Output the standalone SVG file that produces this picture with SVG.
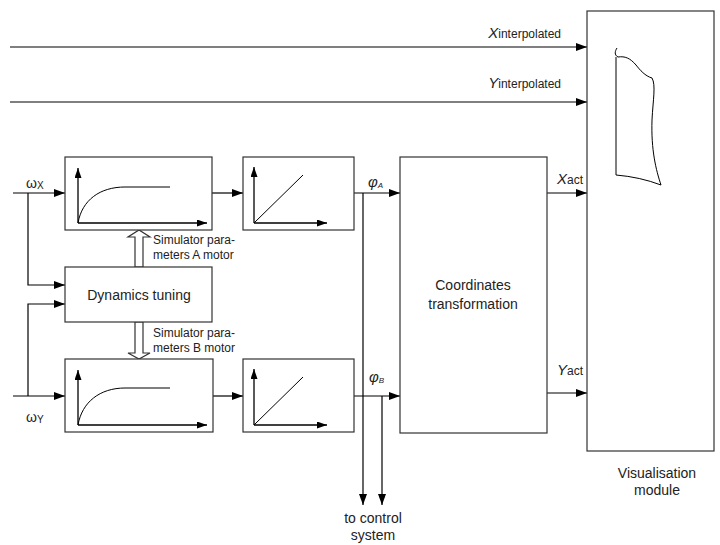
<svg xmlns="http://www.w3.org/2000/svg" width="720" height="545" viewBox="0 0 720 545">
<style>
.box{fill:#fff;stroke:#333;stroke-width:1.2}
.ln{fill:none;stroke:#000;stroke-width:1.2}
.ax{fill:none;stroke:#000;stroke-width:1.3}
.cv{fill:none;stroke:#000;stroke-width:1}
.t{font-family:"Liberation Sans",Arial,sans-serif;font-size:14px;fill:#222}
.s{font-family:"Liberation Sans",Arial,sans-serif;font-size:12px;fill:#222}
.it{font-family:"Liberation Sans",Arial,sans-serif;font-size:15px;font-style:italic;fill:#222}
.sub{font-family:"Liberation Sans",Arial,sans-serif;font-size:12px;fill:#222}
.hol{fill:#fff;stroke:#333;stroke-width:1.2}
</style>
<defs>
<marker id="ah" markerWidth="11" markerHeight="8" refX="11" refY="4" orient="auto" markerUnits="userSpaceOnUse"><path d="M0,0 L11,4 L0,8 z" fill="#000"/></marker>
<marker id="sa" markerWidth="10" markerHeight="7" refX="10" refY="3.5" orient="auto" markerUnits="userSpaceOnUse"><path d="M0,0 L10,3.5 L0,7 z" fill="#000"/></marker>
</defs>

<g id="connectors">
<path class="ln" d="M10,47 H587" marker-end="url(#ah)"/>
<path class="ln" d="M10,102 H587" marker-end="url(#ah)"/>
<path class="ln" d="M13,193 H65" marker-end="url(#ah)"/>
<path class="ln" d="M28,193 V285 H65" marker-end="url(#ah)"/>
<path class="ln" d="M13,396 H65" marker-end="url(#ah)"/>
<path class="ln" d="M28,396 V304 H65" marker-end="url(#ah)"/>
<path class="ln" d="M212,193 H243" marker-end="url(#ah)"/>
<path class="ln" d="M213,396 H243" marker-end="url(#ah)"/>
<path class="ln" d="M354,193 H400" marker-end="url(#ah)"/>
<path class="ln" d="M363,193 V505" marker-end="url(#ah)"/>
<path class="ln" d="M354,396 H400" marker-end="url(#ah)"/>
<path class="ln" d="M382,396 V505" stroke="#555" marker-end="url(#ah)"/>
<path class="ln" d="M547,193 H587" marker-end="url(#ah)"/>
<path class="ln" d="M547,393 H587" marker-end="url(#ah)"/>
<polygon class="hol" points="135,267 135,237 128,237 139,230 150,237 143,237 143,267"/>
<polygon class="hol" points="135,322 135,353 128,353 139,359 150,353 143,353 143,322"/>
</g>

<g id="labels">
<text class="t" x="26" y="188" font-size="15">ω<tspan font-size="10" dy="1">X</tspan></text>
<text class="t" x="26" y="422" font-size="15">ω<tspan font-size="10" dy="1">Y</tspan></text>
<text class="s" x="153" y="244">Simulator para-</text>
<text class="s" x="153" y="259">meters A motor</text>
<text class="s" x="153" y="337">Simulator para-</text>
<text class="s" x="153" y="352">meters B motor</text>
<text class="it" x="368" y="187" font-size="16">φ<tspan font-size="8" dy="1">A</tspan></text>
<text class="it" x="369" y="382" font-size="16">φ<tspan font-size="8" dy="1">B</tspan></text>
<text x="561" y="38" text-anchor="end"><tspan class="it" font-size="16">X</tspan><tspan class="sub">interpolated</tspan></text>
<text x="561" y="88" text-anchor="end"><tspan class="it" font-size="16">Y</tspan><tspan class="sub">interpolated</tspan></text>
<text x="557" y="184"><tspan class="it" font-size="16">X</tspan><tspan class="sub" font-size="13">act</tspan></text>
<text x="557" y="375"><tspan class="it" font-size="16">Y</tspan><tspan class="sub" font-size="13">act</tspan></text>
<text class="t" x="373" y="523" text-anchor="middle">to control</text>
<text class="t" x="373" y="540" text-anchor="middle">system</text>
</g>

<g id="filterA">
<rect class="box" x="65" y="157" width="147" height="73"/>
<path class="ax" d="M78,223 V168" marker-end="url(#sa)"/>
<path class="ax" d="M78,223 H207" marker-end="url(#sa)"/>
<path class="cv" d="M78,223 C82,200 100,187 125,187 L170,187"/>
</g>
<g id="filterB">
<rect class="box" x="65" y="359" width="148" height="73"/>
<path class="ax" d="M78,425 V370" marker-end="url(#sa)"/>
<path class="ax" d="M78,425 H207" marker-end="url(#sa)"/>
<path class="cv" d="M78,425 C82,402 100,388 125,388 L170,388"/>
</g>
<g id="integratorA">
<rect class="box" x="243" y="157" width="111" height="73"/>
<path class="ax" d="M254,223 V167" marker-end="url(#sa)"/>
<path class="ax" d="M254,223 H327" marker-end="url(#sa)"/>
<path class="cv" d="M254,223 L303,175"/>
</g>
<g id="integratorB">
<rect class="box" x="243" y="359" width="111" height="73"/>
<path class="ax" d="M254,425 V369" marker-end="url(#sa)"/>
<path class="ax" d="M254,425 H327" marker-end="url(#sa)"/>
<path class="cv" d="M254,425 L303,377"/>
</g>
<g id="dynamics">
<rect class="box" x="65" y="267" width="147" height="55"/>
<text class="t" x="139" y="300" text-anchor="middle" font-size="14.5">Dynamics tuning</text>
</g>
<g id="coordinates">
<rect class="box" x="400" y="157" width="147" height="276"/>
<text class="t" x="473" y="290" text-anchor="middle">Coordinates</text>
<text class="t" x="473" y="309" text-anchor="middle">transformation</text>
</g>
<g id="visualisation">
<rect class="box" x="587" y="11" width="127" height="440" stroke="#555"/>
<path class="cv" d="M616,57 L616,175 Q640,177 661,185 C656,170 651,150 652,120 C653,100 656,85 652,78 C645,76 640,70 636,65 C630,58 625,56 618,57 C614,55 615,51 617,48"/>
<text class="t" x="657" y="478" text-anchor="middle">Visualisation</text>
<text class="t" x="657" y="495" text-anchor="middle">module</text>
</g>
</svg>
